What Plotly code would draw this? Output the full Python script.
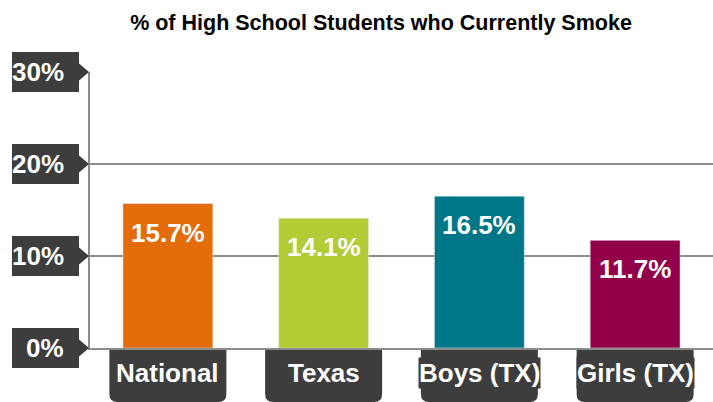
import plotly.graph_objects as go

categories = ["National", "Texas", "Boys (TX)", "Girls (TX)"]
values = [15.7, 14.1, 16.5, 11.7]
colors = ["#E46C0A", "#B3CB34", "#007789", "#920049"]
y_ticks = [0, 10, 20, 30]
y_tick_labels = ["0%", "10%", "20%", "30%"]
title = "% of High School Students who Currently Smoke"

W, H = 713, 402
L, R, T, B = 90, 0, 72, 54
dark = "#3d3d3d"
grid = "#8c8c8c"
FONT = "Liberation Sans, Arial, sans-serif"
FS = 26
Y_MAX = 30
X_RANGE = [-0.5, len(categories) - 0.5]

xs = list(range(len(categories)))
fig = go.Figure(go.Bar(x=xs, y=values, marker_color=colors, width=0.577,
                       hoverinfo="skip"))


def xpaper(i):
    return (i - X_RANGE[0]) / (X_RANGE[1] - X_RANGE[0])


anns = []
shapes = []
# value labels
for i, v in zip(xs, values):
    anns.append(dict(x=i, y=v, xref="x", yref="y", text=f"{v}%", showarrow=False,
                     xanchor="center", yanchor="middle", yshift=-29,
                     font=dict(family=FONT, size=FS, color="white", weight="bold")))
# y tick label boxes
for t, lab in zip(y_ticks, y_tick_labels):
    yp = t / Y_MAX
    shapes.append(dict(type="rect", xref="paper", yref="paper", xsizemode="pixel", ysizemode="pixel",
                       xanchor=0, yanchor=yp, x0=-78, x1=-11, y0=-20, y1=20,
                       fillcolor=dark, line=dict(width=0), layer="above"))
    shapes.append(dict(type="path", xref="paper", yref="paper", xsizemode="pixel", ysizemode="pixel",
                       xanchor=0, yanchor=yp, path="M -11.5,9 L -1,0 L -11.5,-9 Z",
                       fillcolor=dark, line=dict(width=0), layer="above"))
    anns.append(dict(x=0, y=yp, xref="paper", yref="paper", text=lab, showarrow=False,
                     xanchor="right", yanchor="middle", xshift=-24,
                     font=dict(family=FONT, size=FS, color="white", weight="bold")))
# x category label boxes
hw, r = 58.5, 8
for i, c in zip(xs, categories):
    path = (f"M {-hw},-2 L {hw},-2 L {hw},{-54 + r} Q {hw},-54 {hw - r},-54 "
            f"L {-hw + r},-54 Q {-hw},-54 {-hw},{-54 + r} Z")
    shapes.append(dict(type="path", xref="paper", yref="paper", xsizemode="pixel", ysizemode="pixel",
                       xanchor=xpaper(i), yanchor=0, path=path,
                       fillcolor=dark, line=dict(width=0), layer="above"))
    anns.append(dict(x=xpaper(i), y=0, xref="paper", yref="paper", text=c, showarrow=False,
                     xanchor="center", yanchor="middle", yshift=-25, bgcolor=dark, borderpad=0,
                     font=dict(family=FONT, size=FS, color="white", weight="bold")))

fig.update_layout(
    width=W, height=H,
    margin=dict(l=L, r=R, t=T, b=B),
    paper_bgcolor="white", plot_bgcolor="white",
    showlegend=False,
    title=dict(text=title, x=381 / W, xanchor="center", xref="container",
               y=1 - 22 / H, yanchor="middle", yref="container",
               font=dict(family=FONT, size=21.5, color="black", weight="bold")),
    xaxis=dict(range=X_RANGE, showticklabels=False, showgrid=False, zeroline=False,
               showline=True, linecolor=grid, linewidth=2, fixedrange=True),
    yaxis=dict(range=[0, Y_MAX], tickvals=y_ticks, showticklabels=False, showgrid=True,
               gridcolor=grid, gridwidth=2, zeroline=False, showline=True,
               linecolor=grid, linewidth=2, fixedrange=True),
    annotations=anns, shapes=shapes,
)

fig.write_html("out.html", config={"displayModeBar": False},
               post_script="document.body.style.margin='0';document.body.style.overflow='hidden';")
